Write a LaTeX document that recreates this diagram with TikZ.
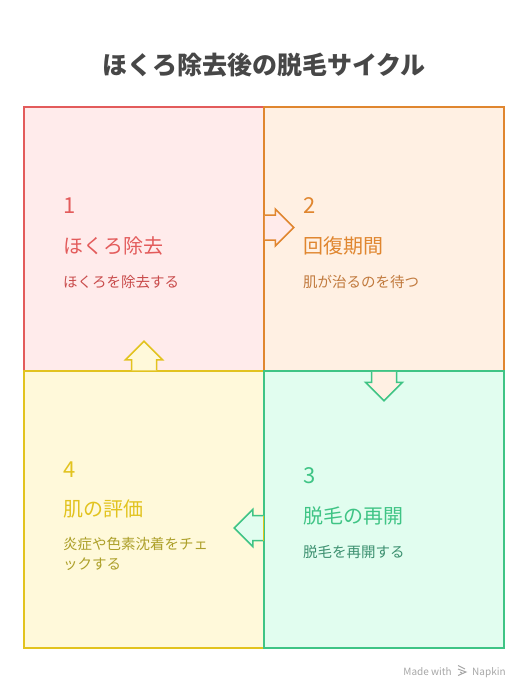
\documentclass[tikz,border=0pt]{standalone}
\usepackage{fontspec}
\setmainfont{Noto Sans CJK JP}
\definecolor{redline}{HTML}{E35B5B}
\definecolor{redfill}{HTML}{FFEBEB}
\definecolor{redtext}{HTML}{C94C4C}
\definecolor{orangeline}{HTML}{E0862F}
\definecolor{orangefill}{HTML}{FFF0E3}
\definecolor{orangetext}{HTML}{C17A3E}
\definecolor{greenline}{HTML}{3FC485}
\definecolor{greenfill}{HTML}{E1FDEF}
\definecolor{greentext}{HTML}{3C9070}
\definecolor{yellowline}{HTML}{E2C31F}
\definecolor{yellowfill}{HTML}{FFF9DA}
\definecolor{yellowtext}{HTML}{ADA02A}
\usetikzlibrary{calc}

\begin{document}
\begin{tikzpicture}[x=1pt,y=-1pt]
                    \tikzstyle{box}=[draw,line width=1.5pt,minimum width=240pt,inner sep=0pt]
                    \tikzstyle{num}=[anchor=base west,inner sep=0pt,font=\fontsize{22}{26}\selectfont]
                    \tikzstyle{head}=[anchor=base west,inner sep=0pt,font=\fontsize{20}{24}\selectfont]
                    \tikzstyle{desc}=[anchor=base west,inner sep=0pt,align=left,font=\fontsize{14.5}{20}\selectfont]
                    \tikzset{blockarrow/.pic={
                        \path[pic actions] (0,-12.5) -- (10.5,-12.5) -- (10.5,-18.5) -- (29,0) -- (10.5,18.5) -- (10.5,12.5) -- (0,12.5);
                    }}
                    \useasboundingbox (0,0) rectangle (528,696);

                    \node (title) at (264,74) [anchor=base,inner sep=0pt,text=black!72,font=\fontsize{25}{30}\selectfont\bfseries] {ほくろ除去後の脱毛サイクル};

                    \node (b1) at (144,239) [box,minimum height=264pt,draw=redline,fill=redfill] {};
                    \node (b2) at (384,239) [box,minimum height=264pt,draw=orangeline,fill=orangefill] {};
                    \node (b4) at (144,509.5) [box,minimum height=277pt,draw=yellowline,fill=yellowfill] {};
                    \node (b3) at (384,509.5) [box,minimum height=277pt,draw=greenline,fill=greenfill] {};

                    \pic [draw=orangeline,fill=redfill,line width=1.5pt] at ($(b1.east)+(0,-11.5)$) {blockarrow};
                    \pic [draw=greenline,fill=orangefill,line width=1.5pt,rotate=-90] at (b2.south) {blockarrow};
                    \coordinate (a34) at ($(b3.west)+(0,18.5)$);
                    \pic [draw=greenline,fill=greenfill,line width=1.5pt,rotate=180] at (a34) {blockarrow};
                    \draw [yellowline,line width=1.5pt] ($(a34)+(0,-12.5)$) -- ($(a34)+(0,12.5)$);
                    \pic [draw=yellowline,fill=yellowfill,line width=1.5pt,rotate=90] at (b4.north) {blockarrow};

                    \node (n1) at (63,213) [num,text=redline] {1};
                    \node (t1) at (63,253) [head,text=redline] {ほくろ除去};
                    \node (d1) at (63,287) [desc,text=redtext] {ほくろを除去する};

                    \node (n2) at (303,213) [num,text=orangeline] {2};
                    \node (t2) at (303,253) [head,text=orangeline] {回復期間};
                    \node (d2) at (303,287) [desc,text=orangetext] {肌が治るのを待つ};

                    \node (n3) at (303,483) [num,text=greenline] {3};
                    \node (t3) at (303,523) [head,text=greenline] {脱毛の再開};
                    \node (d3) at (303,557) [desc,text=greentext] {脱毛を再開する};

                    \node (n4) at (63,477) [num,text=yellowline] {4};
                    \node (t4) at (63,516) [head,text=yellowline] {肌の評価};
                    % last line sits on the base anchor
                    \node (d4) at (63,569) [desc,text=yellowtext] {炎症や色素沈着をチェ\\ックする};

                    \node (made) at (452,675) [anchor=base east,inner sep=0pt,text=black!35,font=\fontsize{10}{12}\selectfont] {Made with};
                    \node (napkin) at (472,675) [anchor=base west,inner sep=0pt,text=black!35,font=\fontsize{10}{12}\selectfont] {Napkin};
                    \coordinate (logo) at (462,670.5);
                    \draw [black!35,line width=1pt] ($(logo)+(-4,-5)$) -- ($(logo)+(3,-1.5)$) ($(logo)+(-4,-1.5)$) -- ($(logo)+(4,1.5)$) -- ($(logo)+(-4,5)$) ($(logo)+(-2,1.5)$) -- ($(logo)+(0,2.5)$);
                \end{tikzpicture}
\end{document}
